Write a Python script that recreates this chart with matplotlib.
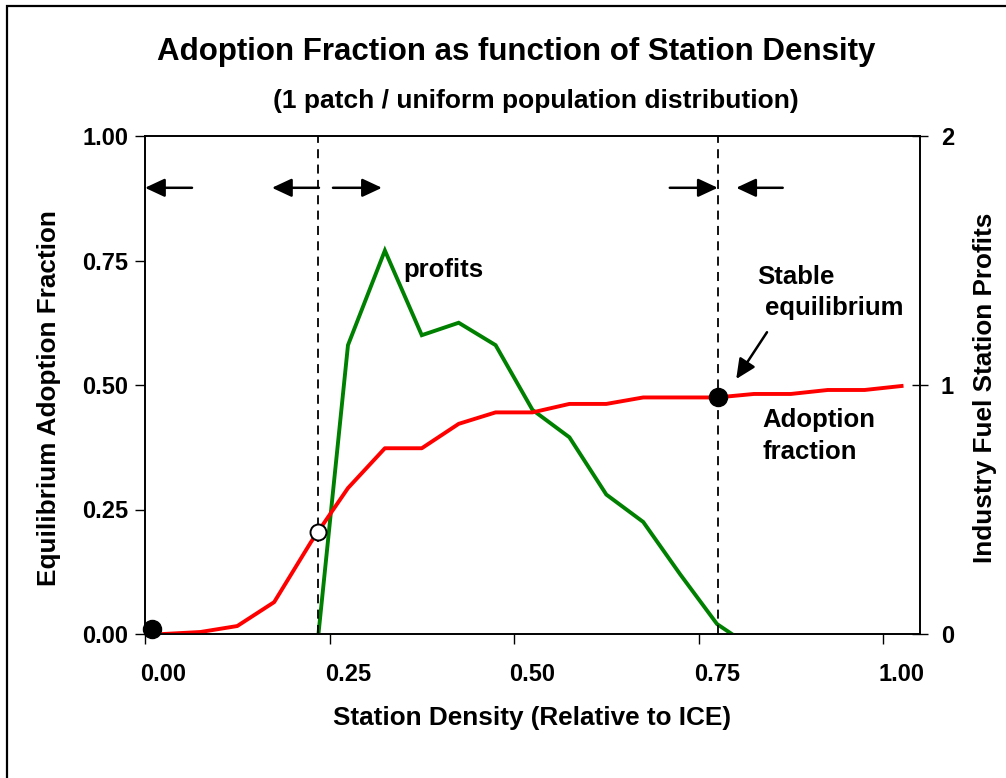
import matplotlib
matplotlib.use("Agg")
import matplotlib.pyplot as plt
from matplotlib.patches import Rectangle
import numpy as np

# station density categories (relative to ICE)
density = [0.00, 0.05, 0.10, 0.15, 0.20, 0.25, 0.30, 0.35, 0.40, 0.45, 0.50,
           0.55, 0.60, 0.65, 0.70, 0.75, 0.80, 0.85, 0.90, 0.95, 1.00]
adoption = [0.000, 0.004, 0.016, 0.064, 0.185, 0.293, 0.373, 0.373, 0.422, 0.445, 0.445,
            0.462, 0.462, 0.475, 0.475, 0.475, 0.482, 0.482, 0.490, 0.490, 0.498]
# profits are negative (clipped by the axis) outside the visible range
profits = [np.nan, np.nan, np.nan, np.nan, -0.29, 1.16, 1.54, 1.20, 1.25, 1.16, 0.90,
           0.79, 0.56, 0.45, 0.24, 0.04, -0.06, np.nan, np.nan, np.nan, np.nan]

x_ticks = [0.00, 0.25, 0.50, 0.75, 1.00]
y_ticks = [0.00, 0.25, 0.50, 0.75, 1.00]
y2_ticks = [0, 1, 2]

unstable_x, unstable_y = 0.21, 0.205
stable_x, stable_y = 0.751, 0.475
origin_x, origin_y = -0.016, 0.011

W, H = 1006, 778
plt.rcParams['font.family'] = ['Liberation Sans', 'DejaVu Sans']
plt.rcParams['font.weight'] = 'bold'

fig = plt.figure(figsize=(W / 100, H / 100), dpi=100)
fig.patch.set_facecolor('white')


def px(x, y):
    return x / W, 1 - y / H


# outer frame (cropped on the right and bottom)
fig.add_artist(Rectangle(px(7, 900), (1200) / W, (900 - 6) / H, transform=fig.transFigure,
                         fill=False, edgecolor='black', lw=1.6))

ax = fig.add_axes([145 / W, 1 - 634 / H, (920 - 145) / W, (634 - 136) / H])
ax2 = ax.twinx()
ax.set_zorder(ax2.get_zorder() + 1)
ax.patch.set_visible(False)

ax.set_xlim(-0.025, 1.025)
ax.set_ylim(0, 1)
ax2.set_ylim(0, 2)

ax2.plot(density, profits, color='#008000', lw=2.8, solid_joinstyle='miter', zorder=3)
ax.plot(density, adoption, color='#ff0000', lw=2.8, zorder=2)

for xv in (unstable_x, stable_x):
    ax.axvline(xv, color='black', lw=1.3, ls=(0, (5, 3.5)), zorder=1)

ax.plot([stable_x], [stable_y], 'o', ms=13, color='black', zorder=6, clip_on=False)
ax.plot([origin_x], [origin_y], 'o', ms=13, color='black', zorder=6, clip_on=False)
ax.plot([unstable_x], [unstable_y], 'o', ms=11.5, mfc='white', mec='black', mew=1.4,
        zorder=6, clip_on=False)

arrow_y = 0.896
arrows = [(0.0387, -0.025), (0.2107, 0.147), (0.2297, 0.296), (0.686, 0.751), (0.839, 0.776)]
aprops = dict(arrowstyle='-|>,head_length=0.6,head_width=0.28', color='black', lw=1.8,
              shrinkA=0, shrinkB=0, mutation_scale=20)
for x0, x1 in arrows:
    ax.annotate('', xy=(x1, arrow_y), xytext=(x0, arrow_y), arrowprops=aprops,
                annotation_clip=False, zorder=7)
ax.annotate('', xy=(0.776, 0.512), xytext=(0.8177, 0.606), arrowprops=aprops, zorder=7)

tk = dict(fontsize=18.5, fontweight='bold', va='center', ha='left')
ax.text(0.3245, 0.731, 'profits', **tk)
ax.text(0.805, 0.717, 'Stable', **tk)
ax.text(0.815, 0.655, 'equilibrium', **tk)
ax.text(0.811, 0.430, 'Adoption', **tk)
ax.text(0.811, 0.365, 'fraction', **tk)

# x axis: labels at categories, tick marks between categories
ax.set_xticks(x_ticks)
ax.set_xticklabels(['%.2f' % v for v in x_ticks])
ax.set_xticks([v - 0.025 for v in x_ticks], minor=True)
ax.tick_params(axis='x', which='major', length=0, pad=21, labelsize=17)
ax.tick_params(axis='x', which='minor', length=7, width=1, direction='out')
ax.set_yticks(y_ticks)
ax.set_yticklabels(['%.2f' % v for v in y_ticks])
ax.tick_params(axis='y', length=7, width=1, direction='out', pad=5, labelsize=17)
ax2.set_yticks(y2_ticks)
ax2.tick_params(axis='y', length=12, width=1, direction='inout', pad=9, labelsize=17)

for a in (ax, ax2):
    for s in a.spines.values():
        s.set_linewidth(1.2)

fig.text(*px(516, 52), 'Adoption Fraction as function of Station Density', fontsize=22.5,
         fontweight='bold', ha='center', va='center')
fig.text(*px(536, 101), '(1 patch / uniform population distribution)', fontsize=19,
         fontweight='bold', ha='center', va='center')
fig.text(*px(532, 718), 'Station Density (Relative to ICE)', fontsize=18.8,
         fontweight='bold', ha='center', va='center')
fig.text(*px(49, 398), 'Equilibrium Adoption Fraction', fontsize=18.8, fontweight='bold',
         ha='center', va='center', rotation=90)
fig.text(*px(985, 388), 'Industry Fuel Station Profits', fontsize=18.8, fontweight='bold',
         ha='center', va='center', rotation=90)

fig.savefig('out.png', dpi=100, facecolor='white')
